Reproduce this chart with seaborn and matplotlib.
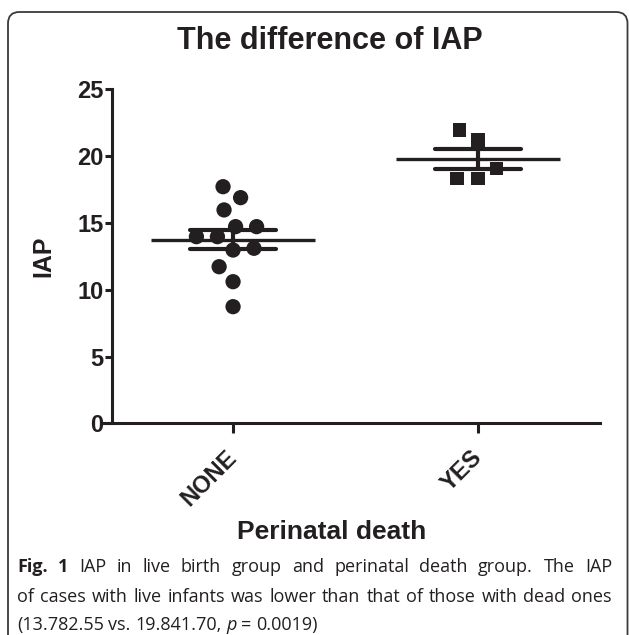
import numpy as np
import pandas as pd
import matplotlib
matplotlib.use('Agg')
import matplotlib.pyplot as plt
import seaborn as sns
from matplotlib.patches import FancyBboxPatch

# ── Data ──────────────────────────────────────────────────────────────────────
GROUPS   = ['NONE', 'YES']
IAP_NONE = [17.71, 16.89, 15.97, 14.72, 14.72, 13.97, 13.97, 13.10, 12.97, 11.72, 10.60, 8.73]
IAP_YES  = [21.95, 21.20, 19.09, 18.34, 18.34]
Y_TICKS  = [0, 5, 10, 15, 20, 25]

TITLE   = 'The difference of IAP'
X_LABEL = 'Perinatal death'
Y_LABEL = 'IAP'
CAPTION = [
    [('Fig.', 'bold', 'normal'), ('1', 'bold', 'normal'), ('IAP', 'normal', 'normal'),
     ('in', 'normal', 'normal'), ('live', 'normal', 'normal'), ('birth', 'normal', 'normal'),
     ('group', 'normal', 'normal'), ('and', 'normal', 'normal'), ('perinatal', 'normal', 'normal'),
     ('death', 'normal', 'normal'), ('group.', 'normal', 'normal'), ('The', 'normal', 'normal'),
     ('IAP', 'normal', 'normal')],
    [(w, 'normal', 'normal') for w in
     'of cases with live infants was lower than that of those with dead ones'.split()],
    [('(13.782.55', 'normal', 'normal'), ('vs.', 'normal', 'normal'), ('19.841.70,', 'normal', 'normal'),
     ('p', 'normal', 'italic'), ('=', 'normal', 'normal'), ('0.0019)', 'normal', 'normal')],
]

INK = '#231f20'
W, H = 629, 635

df = pd.DataFrame({
    'group': ['NONE'] * len(IAP_NONE) + ['YES'] * len(IAP_YES),
    'iap':   IAP_NONE + IAP_YES,
})

# ── Figure ────────────────────────────────────────────────────────────────────
sns.set_style('ticks')
plt.rcParams['font.family'] = ['Liberation Sans', 'DejaVu Sans']

fig = plt.figure(figsize=(W / 100, H / 100), dpi=100)
ax = fig.add_axes([102 / W, 1 - 423.3 / H, 498 / W, 334 / H])

# invisible marker edges widen the swarm spacing so markers sit apart
sns.swarmplot(data=df[df.group == 'NONE'], x='group', y='iap', order=GROUPS,
              color=INK, marker='o', size=11, linewidth=3.4, edgecolor='none', ax=ax)
sns.swarmplot(data=df[df.group == 'YES'], x='group', y='iap', order=GROUPS,
              color=INK, marker='s', size=9.5, linewidth=4.9, edgecolor='none', ax=ax)

sns.pointplot(data=df, x='group', y='iap', order=GROUPS, errorbar='se',
              capsize=0.35, linestyle='none', marker='_', markersize=118,
              markeredgewidth=2.4, color=INK, err_kws={'linewidth': 3}, ax=ax)

for side in ['top', 'right']:
    ax.spines[side].set_visible(False)
for side in ['left', 'bottom']:
    ax.spines[side].set_linewidth(2.2)
    ax.spines[side].set_color(INK)
ax.spines['left'].set_position(('axes', 0.02))

ax.set_ylim(0, 25)
ax.set_xlim(-0.535, 1.498)
ax.set_yticks(Y_TICKS)
ax.set_yticklabels([str(t) for t in Y_TICKS], fontsize=17, fontweight='bold', color=INK)
ax.set_xticks(range(len(GROUPS)))
ax.set_xticklabels(GROUPS, fontsize=17, fontweight='bold', color=INK,
                   rotation=45, ha='right', va='center', rotation_mode='anchor')
ax.tick_params(axis='y', length=5, width=2.2, color=INK, pad=1)
ax.tick_params(axis='x', length=7, width=2.2, color=INK, pad=15)

ax.set_xlabel(X_LABEL, fontsize=19, fontweight='bold', color=INK)
ax.set_ylabel(Y_LABEL, fontsize=18, fontweight='bold', color=INK)
ax.xaxis.set_label_coords(0.462, -0.29)
ax.yaxis.set_label_coords(-0.094, 0.5)

fig.text(330 / W, 1 - 41 / H, TITLE, fontsize=22, fontweight='bold', color=INK,
         ha='center', va='center')

# rounded frame around the figure panel (open towards the bottom)
frame = FancyBboxPatch((8 / W, -0.1), 619.5 / W, 1.1 - 12 / H,
                       boxstyle='round,pad=0,rounding_size=0.018',
                       transform=fig.transFigure, fill=False, lw=1.3, ec='#3a3a3a')
fig.patches.append(frame)

# ── Caption (justified like the journal layout) ──────────────────────────────
renderer = fig.canvas.get_renderer()
x0, x1 = 17, 612
line_y = [567, 597, 625]
cap_kw = dict(fontsize=13, color=INK, family='Open Sans')


def word_width(txt, weight, style):
    t = fig.text(0, 0, txt, fontweight=weight, fontstyle=style, **cap_kw)
    w = t.get_window_extent(renderer).width
    t.remove()
    return w


space = word_width('a b', 'normal', 'normal') - word_width('ab', 'normal', 'normal')
for i, (words, y) in enumerate(zip(CAPTION, line_y)):
    widths = [word_width(*w) for w in words]
    if i < len(CAPTION) - 1:
        gap = (x1 - x0 - sum(widths)) / (len(words) - 1)
    else:
        gap = space
    x = x0
    for (txt, weight, style), w in zip(words, widths):
        fig.text(x / W, 1 - y / H, txt, fontweight=weight, fontstyle=style,
                 ha='left', va='center', **cap_kw)
        x += w + gap

fig.savefig('out.png', dpi=100, facecolor='white')
